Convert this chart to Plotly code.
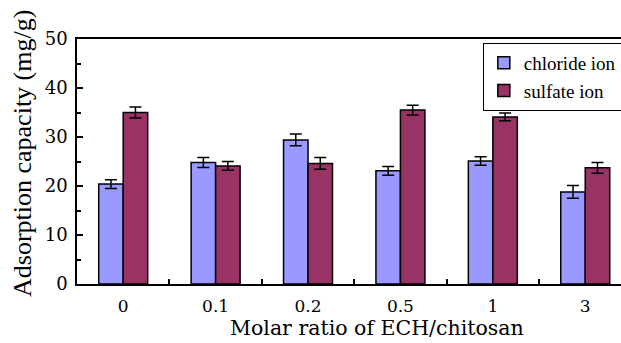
import plotly.graph_objects as go

categories = ["0", "0.1", "0.2", "0.5", "1", "3"]
chloride = [20.4, 24.8, 29.4, 23.1, 25.1, 18.8]
chloride_err = [0.9, 1.0, 1.2, 0.9, 0.85, 1.3]
sulfate = [35.0, 24.1, 24.6, 35.5, 34.1, 23.7]
sulfate_err = [1.1, 0.9, 1.2, 1.0, 0.8, 1.1]

HFONT = "DejaVu Serif"
VFONT = "Liberation Serif"

fig = go.Figure()
fig.add_trace(go.Bar(
    x=categories, y=chloride, name="chloride ion",
    marker=dict(color="#9999FF", line=dict(color="black", width=1.5)),
    error_y=dict(type="data", array=chloride_err, color="black", thickness=1.5, width=6),
))
fig.add_trace(go.Bar(
    x=categories, y=sulfate, name="sulfate ion",
    marker=dict(color="#993366", line=dict(color="black", width=1.5)),
    error_y=dict(type="data", array=sulfate_err, color="black", thickness=1.5, width=6),
))

fig.update_layout(
    width=621, height=343,
    margin=dict(l=77, r=0, t=39, b=59, autoexpand=False),
    paper_bgcolor="white", plot_bgcolor="white",
    font=dict(family=HFONT, size=17, color="black"),
    barmode="group", bargap=0.47, bargroupgap=0,
    legend=dict(
        x=0.746, y=0.984, xanchor="left", yanchor="top",
        bordercolor="black", borderwidth=1, bgcolor="white",
        font=dict(family=VFONT, size=19),
        itemwidth=30, tracegroupgap=3,
    ),
    xaxis=dict(
        type="category", range=[-0.5, 5.387],
        showline=True, linecolor="black", linewidth=1.5, mirror=True,
        ticks="inside", tickson="boundaries", ticklen=5, tickwidth=1.5, tickcolor="black",
        showgrid=False, zeroline=False, ticklabelstandoff=6,
        tickfont=dict(family=HFONT, size=17),
    ),
    yaxis=dict(
        range=[0, 50], dtick=10,
        showline=True, linecolor="black", linewidth=1.5,
        ticks="inside", ticklen=6, tickwidth=1.5, tickcolor="black",
        minor=dict(dtick=5, ticks="inside", ticklen=4, tickwidth=1.5, tickcolor="black", showgrid=False),
        showgrid=False, zeroline=False, ticklabelstandoff=4,
        tickfont=dict(family=HFONT, size=18),
    ),
    annotations=[
        dict(text="Molar ratio of ECH/chitosan", xref="paper", yref="paper",
             x=(377 - 77) / 544, y=(284 - 328) / 245, xanchor="center", yanchor="middle",
             showarrow=False, font=dict(family=HFONT, size=20.5)),
        dict(text="Adsorption capacity (mg/g)", xref="paper", yref="paper",
             x=(22 - 77) / 544, y=(284 - 154) / 245, xanchor="center", yanchor="middle",
             textangle=-90, showarrow=False, font=dict(family=VFONT, size=26)),
    ],
)

fig.write_html("out.html")
